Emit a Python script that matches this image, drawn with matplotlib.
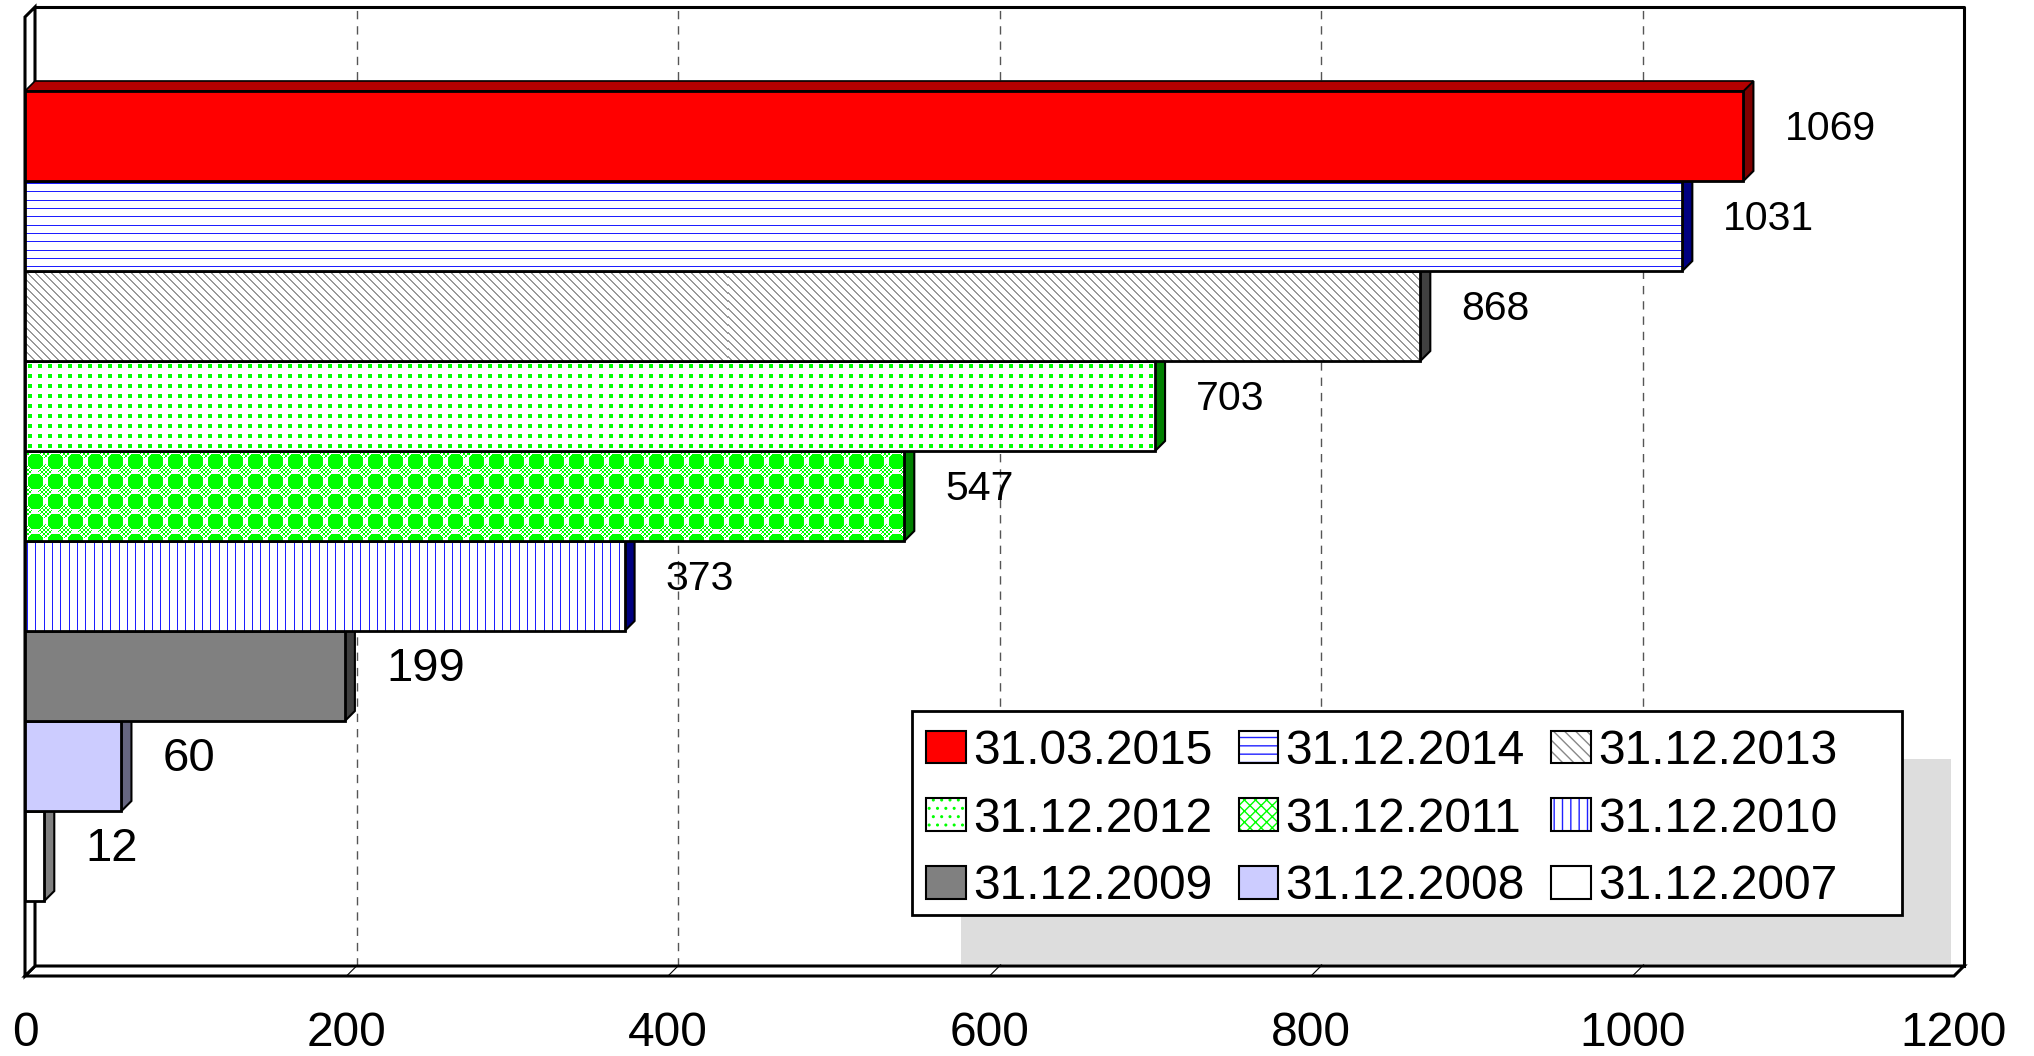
import numpy as np
import matplotlib.pyplot as plt
from matplotlib.patches import Patch, Polygon, Rectangle
from matplotlib.legend_handler import HandlerTuple

plt.rcParams['font.family'] = ['Liberation Sans', 'DejaVu Sans']
plt.rcParams['hatch.linewidth'] = 1.0

# datos
fechas = ["31.03.2015", "31.12.2014", "31.12.2013", "31.12.2012", "31.12.2011",
          "31.12.2010", "31.12.2009", "31.12.2008", "31.12.2007"]
valores = [1069, 1031, 868, 703, 547, 373, 199, 60, 12]
marcas = [0, 200, 400, 600, 800, 1000, 1200]

# estilo de cada barra
frente = ["#FF0000", "#FFFFFF", "#FFFFFF", "#FFFFFF", "#FFFFFF",
          "#FFFFFF", "#808080", "#CCCCFF", "#FFFFFF"]
lado = ["#800000", "#000080", "#404040", "#008000", "#008000",
        "#000080", "#404040", "#666680", "#808080"]
techo = ["#B40000", "#4040C0", "#A0A0A0", "#40C040", "#40C040",
         "#4040C0", "#606060", "#9999CC", "#C0C0C0"]
textura = [None, "horiz", "diag", "puntos", "esfera", "vert", None, None, None]
tam_rotulo = [29.5, 29.5, 29.5, 29.5, 29.5, 29.5, 34, 34, 34]

# estilo de leyenda (tramas aproximadas)
ley_trama = [None, "--", "\\\\\\", "..", "xxx", "||", None, None, None]
ley_color = ["#FF0000", "#2020FF", "#888888", "#00FF00", "#00FF00",
             "#2020FF", "#808080", "#CCCCFF", "#FFFFFF"]

W, H = 2034, 1056
fig = plt.figure(figsize=(W / 100, H / 100), dpi=100)
x0, x1 = 25, 1954
ytop, ybot = 17, 976
ax = fig.add_axes([x0 / W, 1 - ybot / H, (x1 - x0) / W, (ybot - ytop) / H])

sx = (x1 - x0) / 1200.0
sy = 90.0
ylim_top = -0.5 - (91 - ytop) / sy
ylim_bot = 8.5 + (ybot - 901) / sy
DX = 10 / sx
DY = 10 / sy

pos = np.arange(len(valores))


def hacer_textura(tipo, h, w):
    r, c = np.mgrid[0:h, 0:w]
    img = np.ones((h, w, 3))
    if tipo == "horiz":
        m = ((r * 3 + 20) % 25) < 3
        img[m] = (0.12, 0.12, 1.0)
    elif tipo == "vert":
        m = ((c * 3 + 20) % 25) < 3
        img[m] = (0.12, 0.12, 1.0)
    elif tipo == "diag":
        m = ((c - r) % 8) < 2
        img[m] = (0.6, 0.6, 0.6)
    elif tipo == "puntos":
        m = ((r % 10) >= 3) & ((r % 10) < 7) & ((c % 10) >= 3) & ((c % 10) < 7)
        img[m] = (0.0, 1.0, 0.0)
    elif tipo == "esfera":
        dr = (r % 20) - 10
        dc = (c % 20) - 10
        bola = (np.abs(dr) + np.abs(dc) <= 11) & (np.maximum(np.abs(dr), np.abs(dc)) <= 7)
        er = ((r + 10) % 20) - 10
        ec = ((c + 10) % 20) - 10
        cuadro = (np.abs(er) + np.abs(ec) <= 7) & (((r // 2) + (c // 2)) % 2 == 0)
        img[bola | cuadro] = (0.0, 1.0, 0.0)
    return img


caras = ax.barh(pos, valores, height=1.0, color=frente, edgecolor="none")
bordes = ax.barh(pos, valores, height=1.0, fill=False, edgecolor="black", linewidth=2.0)

for i, v in enumerate(valores):
    z = 10 + (len(valores) - i)
    yt = pos[i] - 0.5
    yb = pos[i] + 0.5
    caras[i].set_zorder(z + 0.3)
    bordes[i].set_zorder(z + 0.6)
    ax.add_patch(Polygon([(v, yb), (v + DX, yb - DY), (v + DX, yt - DY), (v, yt)],
                         closed=True, facecolor=lado[i], edgecolor="black",
                         linewidth=1.5, zorder=z))
    ax.add_patch(Polygon([(0, yt), (DX, yt - DY), (v + DX, yt - DY), (v, yt)],
                         closed=True, facecolor=techo[i], edgecolor="black",
                         linewidth=1.2, zorder=z))
    if textura[i] is not None:
        w = int(round(v * sx))
        img = hacer_textura(textura[i], int(sy), w)
        im = ax.imshow(img, extent=(0, v, yb, yt), interpolation="nearest",
                       aspect="auto", zorder=z + 0.4)
        im.set_clip_path(caras[i])
    ax.text(v + 41 / sx, pos[i] - 0.08, str(v), fontsize=tam_rotulo[i],
            ha="left", va="center", zorder=30)

# paredes y suelo
ax.add_patch(Polygon([(0, ylim_bot), (1200, ylim_bot), (1200 + DX, ylim_bot - DY),
                      (DX, ylim_bot - DY)], closed=True, facecolor="white",
                     edgecolor="black", linewidth=2.2, zorder=2, clip_on=False))
ax.add_patch(Polygon([(0, ylim_top), (0, ylim_bot), (DX, ylim_bot - DY),
                      (DX, ylim_top - DY)], closed=True, facecolor="white",
                     edgecolor="black", linewidth=2.2, zorder=2, clip_on=False))
ax.plot([DX, 1200 + DX, 1200 + DX], [ylim_top - DY, ylim_top - DY, ylim_bot - DY],
        color="black", linewidth=2.2, zorder=2, clip_on=False)

for t in marcas[1:-1]:
    ax.plot([t + DX, t + DX], [ylim_bot - DY, ylim_top - DY], color="#555555",
            linewidth=1.0, dashes=(6, 5), zorder=1.5, clip_on=False)
    ax.plot([t, t + DX], [ylim_bot, ylim_bot - DY], color="black",
            linewidth=0.8, zorder=2.5, clip_on=False)

ax.set_xlim(0, 1200)
ax.set_ylim(ylim_bot, ylim_top)
ax.set_xticks(marcas)
ax.set_xticklabels([str(m) for m in marcas], fontsize=34.5)
ax.set_yticks([])
ax.tick_params(axis="x", length=0, pad=25.5)
for s in ax.spines.values():
    s.set_visible(False)
ax.patch.set_visible(False)

# leyenda con marco y sombra
fig.add_artist(Rectangle((961 / W, 1 - 964 / H), (1951 - 961) / W, (964 - 759) / H,
                         transform=fig.transFigure, facecolor="#DDDDDD",
                         edgecolor="none", zorder=40))
fig.add_artist(Rectangle((912 / W, 1 - 915 / H), (1902 - 912) / W, (915 - 711) / H,
                         transform=fig.transFigure, facecolor="white",
                         edgecolor="black", linewidth=2.0, zorder=41))

manijas = []
for i in range(len(fechas)):
    if ley_trama[i] is None:
        manijas.append(Patch(facecolor=ley_color[i], edgecolor="black", linewidth=1.5))
    else:
        manijas.append((Patch(facecolor="white", edgecolor=ley_color[i],
                              hatch=ley_trama[i], linewidth=0),
                        Patch(facecolor="none", edgecolor="black", linewidth=1.5)))
orden = [0, 3, 6, 1, 4, 7, 2, 5, 8]
ley = fig.legend([manijas[k] for k in orden], [fechas[k] for k in orden],
                 ncol=3, loc="upper left", bbox_to_anchor=(926 / W, 1 - 729 / H),
                 bbox_transform=fig.transFigure, frameon=False, fontsize=34.5,
                 handlelength=0.83, handleheight=0.67, handletextpad=0.15,
                 columnspacing=0.55, labelspacing=0.47, borderpad=0,
                 borderaxespad=0, handler_map={tuple: HandlerTuple(ndivide=1, pad=0)})
ley.set_zorder(42)

fig.savefig("out.png", dpi=100)
